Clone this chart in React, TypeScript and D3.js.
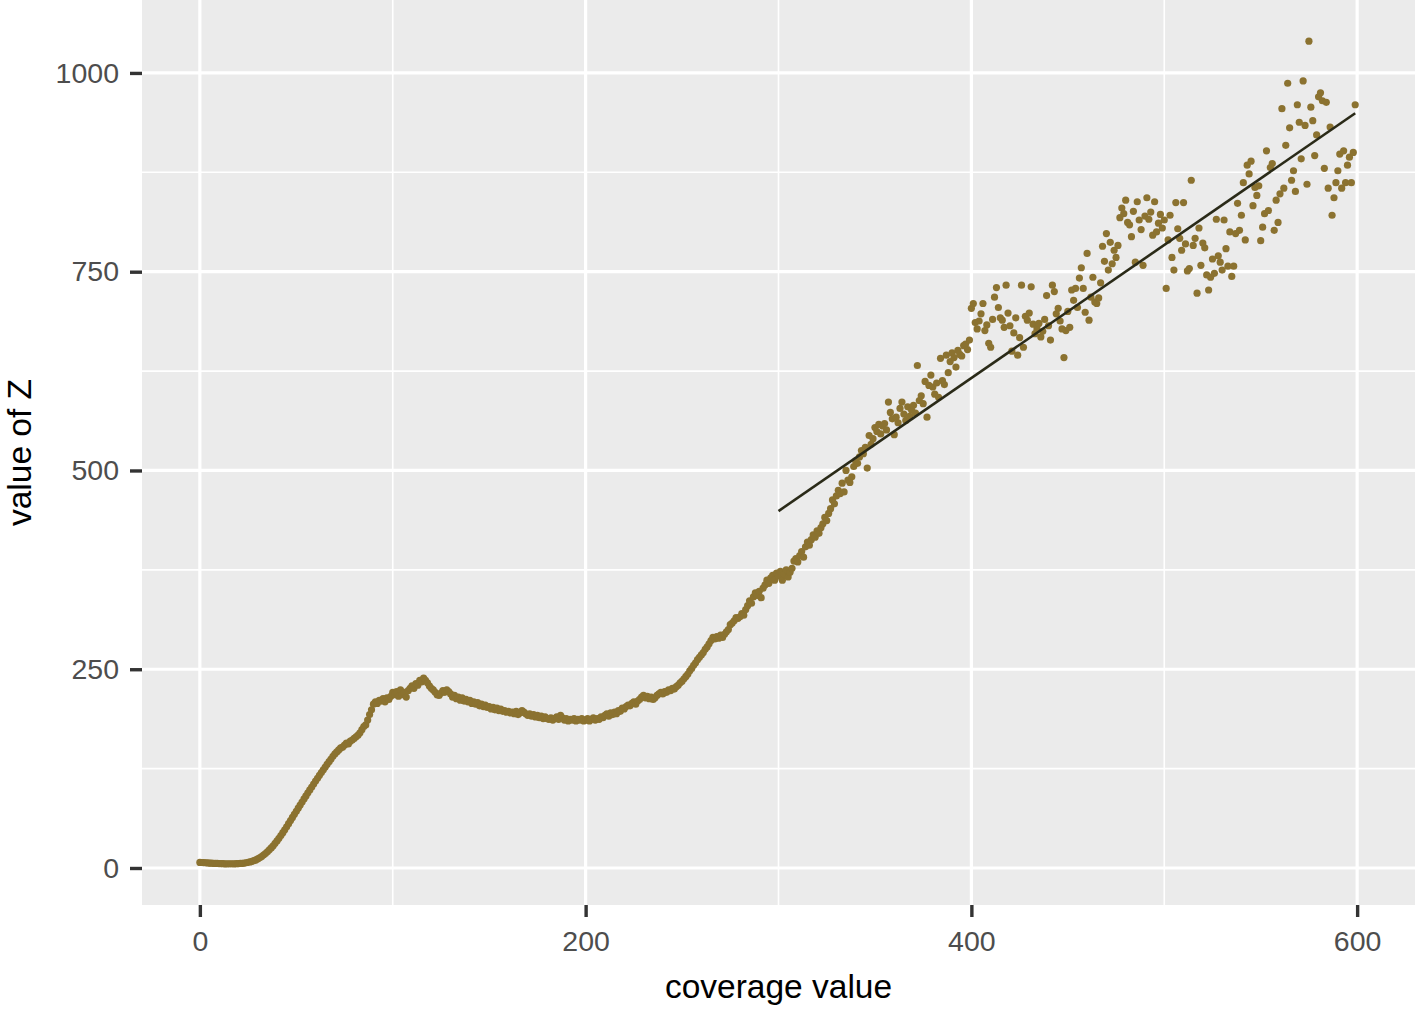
import React, { useEffect, useRef } from "react";
import * as d3 from "d3";

// value of Z per coverage step (coverage = index)
const zLowRise = [
  7, 6.9, 6.8, 6.6, 6.4, 6.2, 6.1, 5.9, 5.8, 5.7,
  5.6, 5.5, 5.4, 5.3, 5.3, 5.2, 5.2, 5.2, 5.3, 5.4,
  5.5, 5.7, 5.9, 6.2, 6.6, 7.1, 7.6, 8.4, 9.2, 10.2,
  11.4, 12.8, 14.4, 16.2, 18.2, 20.4, 22.8, 25.3, 28, 31,
  34, 37.3, 40.8, 44.4, 48.1, 51.9, 55.8, 59.7, 63.6, 67.5,
  71.4, 75.3, 79.2, 83, 86.9, 90.7, 94.5, 98.2, 101.9, 105.6,
  109.3, 112.9, 116.5, 120, 123.5, 127, 130.4, 133.8, 137.1, 140.4,
  143.5, 146, 148.5, 151, 152, 154.5, 157, 156, 159.5, 161,
  163, 165, 167, 170, 174, 178, 180, 186, 193, 199,
  206, 209, 207, 211, 210, 213, 209, 214, 212, 216,
];

const zPlateau = [
  221, 218, 222, 216, 224, 218, 221, 215, 223, 226,
  229, 226, 232, 230, 236, 234, 239, 236, 233, 229,
  226, 224, 221, 218, 217, 220, 223, 221, 224, 222,
  219, 215, 217, 213, 215, 211, 214, 210, 212, 209,
  211, 207, 209, 206, 208, 204, 206, 203, 205, 202,
  203, 200, 202, 199, 201, 198, 200, 197, 198, 196,
  197, 195, 196, 194, 197, 193, 195, 198, 196, 194,
  192, 194, 191, 193, 190, 192, 189, 191, 188, 190,
  188, 187, 189, 186, 188, 190, 187, 192, 189, 186,
  188, 185, 187, 186, 188, 185, 187, 186, 188, 185,
  186, 188, 185, 187, 189, 186, 188, 187, 190, 189,
  192, 194, 191, 195, 193, 196, 194, 198, 197, 201,
  200, 203, 205, 204, 207, 209, 206, 210, 212, 215,
  217, 214, 216, 213, 215, 212, 214, 217, 219, 221,
  219, 222, 221, 224, 223, 226, 225, 228, 230, 233,
];

const zClimb = [
  235, 238, 241, 244, 248, 251, 255, 258, 262, 265,
  268, 271, 275, 278, 282, 286, 290, 288, 291, 289,
  293, 290, 294, 297, 300, 306, 308, 311, 315, 314,
  316, 320, 318, 325, 330, 336, 333, 341, 346, 343,
  348, 340, 352, 356, 362, 358, 365, 368, 362, 371,
  367, 373, 362, 369, 375, 366, 372, 377, 386, 389,
  385, 393, 398, 391, 404, 410, 406, 413, 419, 416,
  424, 421, 428, 433, 441, 437, 446, 452, 463, 458,
  468, 475, 471, 484, 473, 500, 488, 485, 492, 505,
  512, 509, 517, 525, 521, 529, 503, 544, 533, 540,
];

const zScatter = [
  554, 549, 558, 546, 556, 559, 551, 586, 573, 565,
  545, 567, 560, 578, 586, 571, 563, 580, 568, 576,
  582, 572, 632, 588, 594, 584, 612, 567, 607, 620,
  605, 596, 610, 592, 641, 613, 608, 645, 623, 637,
  648, 642, 630, 651, 646, 644, 657, 659, 652, 664,
  704, 710, 686, 678, 688, 697, 710, 676, 683, 660,
  655, 690, 718, 730, 705, 692, 689, 680, 733, 698,
  682, 650, 673, 692, 645, 667, 733, 655, 694, 689,
  698, 731, 684, 672, 678, 685, 668, 675, 690, 720,
  682, 664, 733, 725, 697, 704, 688, 678, 642, 676,
  700, 680, 727, 714, 729, 705, 742, 755, 729, 699,
  773, 689, 718, 743, 712, 710, 717, 736, 782, 763,
  798, 752, 787, 760, 777, 768, 783, 818, 830, 823,
  840, 812, 809, 794, 826, 762, 838, 815, 803, 758,
  820, 843, 816, 825, 796, 838, 800, 811, 822, 805,
  815, 729, 790, 821, 768, 752, 837, 804, 792, 777,
  837, 785, 751, 754, 865, 783, 792, 723, 805, 758,
  786, 780, 746, 727, 743, 766, 748, 816, 770, 762,
  752, 815, 779, 757, 800, 744, 757, 798, 836, 802,
  821, 862, 790, 884, 873, 889, 833, 856, 846, 858,
  789, 806, 823, 902, 827, 881, 886, 802, 840, 812,
  848, 955, 855, 909, 987, 931, 865, 877, 851, 960,
  938, 892, 990, 934, 860, 1040, 957, 940, 896, 922,
  970, 975, 965, 880, 963, 855, 932, 821, 843, 862,
  877, 898, 855, 902, 862, 884, 894, 862, 900, 960,
];

const xTicks = [0, 200, 400, 600];
const xMinor = [100, 300, 500];
const yTicks = [0, 250, 500, 750, 1000];
const yMinor = [125, 375, 625, 875];
const fitFrom = 300; // linear fit drawn over coverage >= 300

export default function App() {
  const svgRef = useRef(null);

  useEffect(() => {
    const W = 1418, H = 1011;
    const margin = { top: 0, right: 3, bottom: 106, left: 142 };
    const font = "'Liberation Sans', Arial, Helvetica, sans-serif";

    const z = [...zLowRise, ...zPlateau, ...zClimb, ...zScatter];
    const data = z.map((v, i) => ({ x: i, y: v }));

    const expand = (ext: [number, number]) => {
      const pad = (ext[1] - ext[0]) * 0.05;
      return [ext[0] - pad, ext[1] + pad];
    };
    const xDom = expand([0, 600]);
    const yDom = expand(d3.extent(data, (d) => d.y) as [number, number]);

    const x = d3.scaleLinear().domain(xDom).range([margin.left, W - margin.right]);
    const y = d3.scaleLinear().domain(yDom).range([H - margin.bottom, margin.top]);

    const svg = d3.select(svgRef.current);
    svg.selectAll("*").remove();
    svg.attr("width", W).attr("height", H);

    svg.append("rect").attr("width", W).attr("height", H).attr("fill", "#ffffff");
    svg.append("rect")
      .attr("x", margin.left)
      .attr("y", margin.top)
      .attr("width", W - margin.right - margin.left)
      .attr("height", H - margin.bottom - margin.top)
      .attr("fill", "#EBEBEB");

    const grid = svg.append("g").attr("stroke", "#ffffff");
    grid.selectAll(".vmin").data(xMinor).enter().append("line")
      .attr("x1", (d) => x(d)).attr("x2", (d) => x(d))
      .attr("y1", y.range()[0]).attr("y2", y.range()[1])
      .attr("stroke-width", 1.6);
    grid.selectAll(".hmin").data(yMinor).enter().append("line")
      .attr("y1", (d) => y(d)).attr("y2", (d) => y(d))
      .attr("x1", x.range()[0]).attr("x2", x.range()[1])
      .attr("stroke-width", 1.6);
    grid.selectAll(".vmaj").data(xTicks).enter().append("line")
      .attr("x1", (d) => x(d)).attr("x2", (d) => x(d))
      .attr("y1", y.range()[0]).attr("y2", y.range()[1])
      .attr("stroke-width", 3.2);
    grid.selectAll(".hmaj").data(yTicks).enter().append("line")
      .attr("y1", (d) => y(d)).attr("y2", (d) => y(d))
      .attr("x1", x.range()[0]).attr("x2", x.range()[1])
      .attr("stroke-width", 3.2);

    // points
    svg.append("g")
      .selectAll("circle")
      .data(data)
      .enter()
      .append("circle")
      .attr("cx", (d) => x(d.x))
      .attr("cy", (d) => y(d.y))
      .attr("r", 3.6)
      .attr("fill", "#8B7230");

    // least squares fit over the upper range
    const sub = data.filter((d) => d.x >= fitFrom);
    const mx = d3.mean(sub, (d) => d.x) as number;
    const my = d3.mean(sub, (d) => d.y) as number;
    const sxy = d3.sum(sub, (d) => (d.x - mx) * (d.y - my));
    const sxx = d3.sum(sub, (d) => (d.x - mx) ** 2);
    const slope = sxy / sxx;
    const fx = d3.extent(sub, (d) => d.x) as [number, number];
    const fit = fx.map((v) => ({ x: v, y: my + slope * (v - mx) }));
    svg.append("path")
      .datum(fit)
      .attr("d", d3.line<{ x: number; y: number }>().x((d) => x(d.x)).y((d) => y(d.y)))
      .attr("fill", "none")
      .attr("stroke", "#2A2A18")
      .attr("stroke-width", 2.6);

    // axes
    const xAxis = svg.append("g")
      .attr("transform", `translate(0,${y.range()[0]})`)
      .call(d3.axisBottom(x).tickValues(xTicks).tickSize(12).tickPadding(14).tickFormat(d3.format("d")));
    const yAxis = svg.append("g")
      .attr("transform", `translate(${x.range()[0]},0)`)
      .call(d3.axisLeft(y).tickValues(yTicks).tickSize(12).tickPadding(11).tickFormat(d3.format("d")));

    [xAxis, yAxis].forEach((ax) => {
      ax.select(".domain").remove();
      ax.selectAll("line").attr("stroke", "#333333").attr("stroke-width", 3.4);
      ax.selectAll("text")
        .attr("fill", "#4D4D4D")
        .style("font-family", font)
        .style("font-size", "28.5px");
    });

    svg.append("text")
      .attr("x", (x.range()[0] + x.range()[1]) / 2)
      .attr("y", 998)
      .attr("text-anchor", "middle")
      .attr("fill", "#000000")
      .style("font-family", font)
      .style("font-size", "33.5px")
      .text("coverage value");

    svg.append("text")
      .attr("transform", `translate(31,${(y.range()[0] + y.range()[1]) / 2}) rotate(-90)`)
      .attr("text-anchor", "middle")
      .attr("fill", "#000000")
      .style("font-family", font)
      .style("font-size", "33.5px")
      .text("value of Z");
  }, []);

  return (
    <div style={{ position: "absolute", left: 0, top: 0 }}>
      <svg ref={svgRef} style={{ display: "block" }} />
    </div>
  );
}
